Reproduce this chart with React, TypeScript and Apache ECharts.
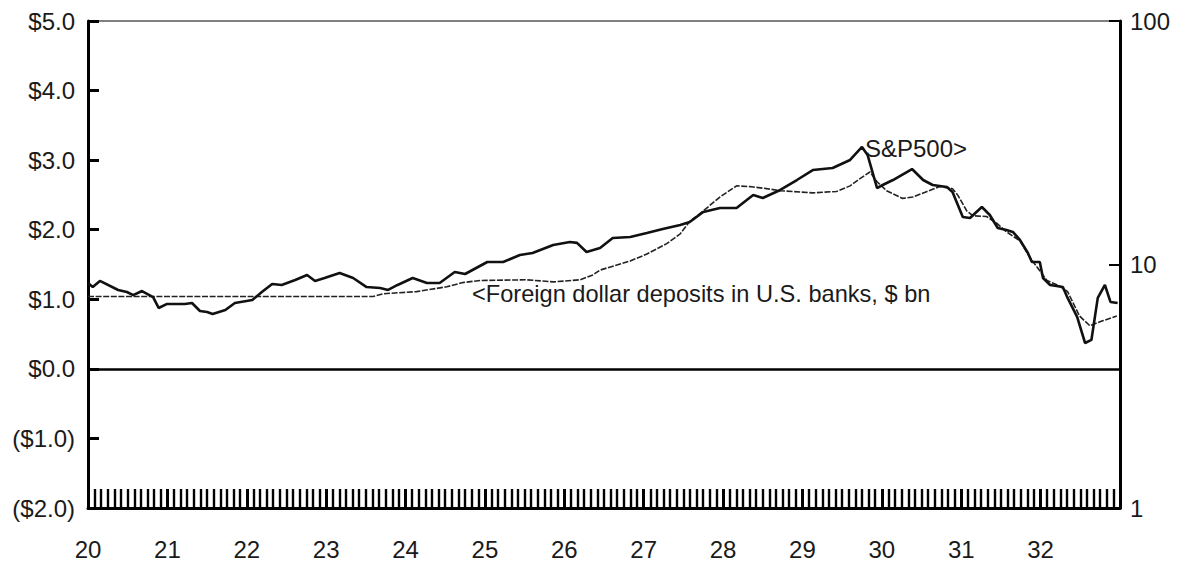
import React, { useEffect, useRef } from "react";
import * as echarts from "echarts";

// S&P500 (right, log scale) — dates as fractional years
const spDates = [
  1920.0, 1920.06, 1920.15, 1920.38, 1920.49, 1920.57, 1920.68, 1920.82, 1920.89, 1920.99,
  1921.22, 1921.31, 1921.41, 1921.5, 1921.57, 1921.73, 1921.85, 1922.07, 1922.19, 1922.32,
  1922.44, 1922.61, 1922.76, 1922.86, 1922.98, 1923.17, 1923.34, 1923.51, 1923.68, 1923.78,
  1923.9, 1924.09, 1924.27, 1924.43, 1924.62, 1924.75, 1925.03, 1925.23, 1925.44, 1925.6,
  1925.86, 1926.07, 1926.16, 1926.28, 1926.45, 1926.61, 1926.83, 1927.04, 1927.24, 1927.46,
  1927.58, 1927.75, 1927.96, 1928.17, 1928.25, 1928.38, 1928.5, 1928.72, 1928.93, 1929.13,
  1929.38, 1929.6, 1929.75, 1929.82, 1929.94, 1930.01, 1930.14, 1930.38, 1930.52, 1930.64,
  1930.82, 1930.89, 1931.02, 1931.11, 1931.26, 1931.36, 1931.46, 1931.57, 1931.65, 1931.74,
  1931.84, 1931.89, 1931.99, 1932.03, 1932.12, 1932.28, 1932.34, 1932.46, 1932.56, 1932.64,
  1932.72, 1932.81, 1932.88, 1932.97,
];
const spValues = [
  8.4, 8.08, 8.56, 7.86, 7.71, 7.49, 7.78, 7.35, 6.63, 6.88,
  6.88, 6.95, 6.44, 6.38, 6.26, 6.5, 6.95, 7.15, 7.71, 8.32,
  8.24, 8.64, 9.06, 8.56, 8.8, 9.23, 8.8, 8.08, 8.01, 7.86,
  8.24, 8.8, 8.4, 8.4, 9.32, 9.14, 10.24, 10.24, 10.94, 11.15,
  12.03, 12.37, 12.27, 11.26, 11.68, 12.85, 12.97, 13.47, 13.99, 14.53,
  14.95, 16.43, 17.06, 17.06, 17.89, 19.29, 18.76, 20.23, 22.23, 24.43,
  24.91, 26.87, 30.39, 28.17, 20.61, 21.21, 22.23, 24.67, 22.23, 21.21,
  20.81, 19.85, 15.67, 15.52, 17.22, 15.97, 14.12, 13.86, 13.6, 12.61,
  11.15, 10.24, 10.24, 8.8, 8.24, 8.08, 7.29, 6.09, 4.76, 4.9,
  7.29, 8.24, 7.02, 6.95,
];

// Foreign dollar deposits in U.S. banks, $ bn (left axis)
const depDates = [
  1920.0, 1923.59, 1923.72, 1924.14, 1924.52, 1924.72, 1924.94, 1925.53, 1925.86, 1926.2,
  1926.36, 1926.45, 1926.83, 1927.04, 1927.29, 1927.46, 1927.58, 1927.75, 1927.96, 1928.17,
  1928.34, 1928.55, 1928.72, 1929.13, 1929.43, 1929.6, 1929.72, 1929.85, 1929.94, 1930.06,
  1930.26, 1930.39, 1930.57, 1930.73, 1930.89, 1930.96, 1931.07, 1931.15, 1931.32, 1931.45,
  1931.57, 1931.74, 1931.86, 1931.95, 1932.08, 1932.24, 1932.34, 1932.49, 1932.62, 1932.78,
  1932.96,
];
const depValues = [
  1.04, 1.04, 1.08, 1.11, 1.18, 1.24, 1.27, 1.28, 1.25, 1.28,
  1.35, 1.42, 1.55, 1.65, 1.8, 1.94, 2.12, 2.27, 2.47, 2.63,
  2.62, 2.59, 2.56, 2.53, 2.55, 2.63, 2.73, 2.83, 2.69, 2.56,
  2.45, 2.47, 2.55, 2.62, 2.59, 2.49, 2.27, 2.2, 2.19, 2.09,
  1.97, 1.84, 1.61, 1.47, 1.27, 1.19, 1.11, 0.76, 0.62, 0.69,
  0.76,
];

const leftTicks = [-2, -1, 0, 1, 2, 3, 4, 5];
const rightTicks = [1, 10, 100];
const yearLabels = ["20", "21", "22", "23", "24", "25", "26", "27", "28", "29", "30", "31", "32"];

const FONT = "'Liberation Sans', Arial, sans-serif";
const TXT = "#1a1a1a";

export default function App() {
  const ref = useRef<HTMLDivElement>(null);
  useEffect(() => {
    if (!ref.current) return;
    const chart = echarts.init(ref.current, undefined, { renderer: "svg" });
    const fmtLeft = (v: number) =>
      v < 0 ? `($${Math.abs(v).toFixed(1)})` : `$${v.toFixed(1)}`;
    chart.setOption({
      animation: false,
      backgroundColor: "#fff",
      grid: {
        left: 88,
        right: 72,
        top: 21,
        bottom: 58,
        show: true,
        borderColor: "#000",
        borderWidth: 1,
      },
      xAxis: {
        type: "value",
        min: 1920,
        max: 1933,
        interval: 1,
        axisLine: { onZero: false, lineStyle: { color: "#000", width: 3 } },
        axisTick: { inside: true, length: 19, lineStyle: { color: "#000", width: 3 } },
        minorTick: { show: true, splitNumber: 12, length: 19, lineStyle: { color: "#000", width: 2.4 } },
        splitLine: { show: false },
        axisLabel: {
          showMaxLabel: false,
          margin: 29,
          fontSize: 24,
          fontFamily: FONT,
          color: TXT,
          formatter: (v: number) => yearLabels[Math.round(v - 1920)] ?? "",
        },
      },
      yAxis: [
        {
          type: "value",
          min: leftTicks[0],
          max: leftTicks[leftTicks.length - 1],
          interval: 1,
          axisLine: { show: true, onZero: false, lineStyle: { color: "#000", width: 3 } },
          axisTick: { show: true, inside: true, length: 11, lineStyle: { color: "#000", width: 3 } },
          splitLine: { show: false },
          axisLabel: { margin: 13, fontSize: 24, fontFamily: FONT, color: TXT, formatter: fmtLeft },
        },
        {
          type: "log",
          logBase: 10,
          min: rightTicks[0],
          max: rightTicks[rightTicks.length - 1],
          axisLine: { show: true, onZero: false, lineStyle: { color: "#000", width: 3 } },
          axisTick: { show: true, inside: true, length: 11, lineStyle: { color: "#000", width: 2 } },
          minorTick: { show: false },
          splitLine: { show: false },
          axisLabel: { margin: 10, fontSize: 24, fontFamily: FONT, color: TXT },
        },
      ],
      series: [
        {
          name: "Foreign dollar deposits in U.S. banks, $ bn",
          type: "line",
          yAxisIndex: 0,
          symbol: "none",
          data: depDates.map((d, i) => [d, depValues[i]]),
          lineStyle: { color: "#222", width: 1.6, type: [6, 1.6] },
          z: 3,
          markLine: {
            silent: true,
            symbol: "none",
            label: { show: false },
            lineStyle: { color: "#000", width: 2.5, type: "solid" },
            data: [{ yAxis: 0 }],
          },
        },
        {
          name: "S&P500",
          type: "line",
          yAxisIndex: 1,
          symbol: "none",
          data: spDates.map((d, i) => [d, spValues[i]]),
          lineStyle: { color: "#111", width: 2.6 },
          z: 4,
        },
      ],
      graphic: [
        {
          type: "text",
          left: 865,
          top: 136,
          style: { text: "S&P500>", font: `24px ${FONT}`, fill: TXT },
        },
        {
          type: "text",
          left: 472,
          top: 282,
          style: { text: "<Foreign dollar deposits in U.S. banks, $ bn", font: `23.6px ${FONT}`, fill: TXT },
        },
      ],
    });
    return () => chart.dispose();
  }, []);
  return (
    <div
      ref={ref}
      style={{ position: "absolute", left: 0, top: 0, width: 1192, height: 566 }}
    />
  );
}
